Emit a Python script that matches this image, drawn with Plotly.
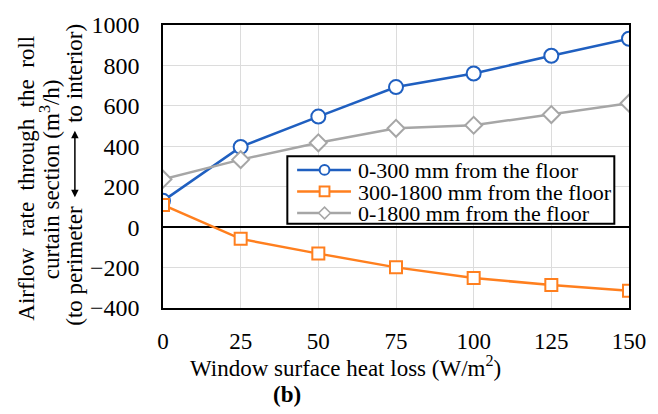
import plotly.graph_objects as go

# Window surface heat loss (W/m2)
heat_loss = [0, 25, 50, 75, 100, 125, 150]

# Airflow rate through the roll curtain section (m3/h)
flow_0_300 = [130, 397, 547, 693, 760, 848, 932]
flow_300_1800 = [110, -58, -131, -199, -252, -286, -315]
flow_0_1800 = [237, 334, 417, 489, 504, 557, 613]

series_names = [
    "0-300 mm from the floor",
    "300-1800 mm from the floor",
    "0-1800 mm from the floor",
]
series_colors = ["#1f5fc0", "#ff7f1e", "#a6a6a6"]
series_symbols = ["circle", "square", "diamond"]
y_ticks = [-400, -200, 0, 200, 400, 600, 800, 1000]

FONT = "'Liberation Serif', 'Times New Roman', Times, serif"

W, H = 658, 414
ML, MR, MT, MB = 163, 19, 19, 106
PW, PH = W - ML - MR, H - MT - MB


def px(x):
    """pixel column -> paper x"""
    return (x - ML) / PW


def py(y):
    """pixel row -> paper y"""
    return (H - MB - y) / PH


fig = go.Figure()
marker_sizes = [14, 12, 13]
for vals, name, color, sym, size in zip(
        [flow_0_300, flow_300_1800, flow_0_1800],
        series_names, series_colors, series_symbols, marker_sizes):
    fig.add_trace(go.Scatter(
        x=heat_loss, y=vals, name=name, mode="lines+markers",
        line=dict(color=color, width=2.5),
        marker=dict(symbol=sym, size=size, color="white",
                    line=dict(color=color, width=2)),
        showlegend=False,
    ))

fig.update_layout(
    width=W, height=H,
    margin=dict(l=ML, r=MR, t=MT, b=MB),
    paper_bgcolor="white", plot_bgcolor="white",
    font=dict(family=FONT, size=22, color="black"),
    xaxis=dict(
        range=[0, 150], tickvals=heat_loss, ticks="",
        showgrid=True, gridcolor="#dcdcdc", gridwidth=1,
        showline=True, linecolor="black", linewidth=1.5, mirror=True,
        zeroline=False, ticklabelstandoff=12,
        tickfont=dict(family=FONT, size=23),
    ),
    yaxis=dict(
        range=[-400, 1000], tickvals=y_ticks, ticks="",
        showgrid=True, gridcolor="#dcdcdc", gridwidth=1,
        showline=True, linecolor="black", linewidth=1.5, mirror=True,
        zeroline=True, zerolinecolor="black", zerolinewidth=1.5,
        ticklabelstandoff=17,
        tickfont=dict(family=FONT, size=24),
    ),
)

# axis titles and caption
annotations = [
    dict(text="Window surface heat loss (W/m<sup>2</sup>)", x=349, y=368, size=23),
    dict(text="<b>(b)</b>", x=290, y=396, size=23),
    dict(text="Airflow  rate  through  the  roll", x=24, y=175, angle=-90, size=23),
    dict(text="curtain section (m<sup>3</sup>/h)", x=48, y=176, angle=-90, size=23),
    dict(text="to interior)", x=73, y=68, angle=-90, size=23),
    dict(text="(to perimeter", x=73, y=265, angle=-90, size=23),
]
for a in annotations:
    fig.add_annotation(
        text=a["text"], xref="paper", yref="paper",
        x=px(a["x"]), y=py(a["y"]),
        xanchor="center", yanchor="middle", showarrow=False,
        textangle=a.get("angle", 0),
        font=dict(family=FONT, size=a["size"], color="black"),
    )

# double-headed arrow between the direction labels
fig.add_annotation(
    xref="paper", yref="paper",
    x=px(73), y=py(127), ax=0, ay=68,
    text="", showarrow=True, arrowside="end+start",
    arrowhead=2, arrowsize=1, arrowwidth=1.5, arrowcolor="black",
)

# legend box with sample line, marker and label per series
shapes = [dict(type="rect", xref="paper", yref="paper",
               x0=px(290), x1=px(624), y0=py(222), y1=py(153),
               line=dict(color="black", width=2), fillcolor="white")]
row_y = [167, 189, 211]
for name, color, sym, ry in zip(series_names, series_colors, series_symbols, row_y):
    shapes.append(dict(type="line", xref="paper", yref="paper",
                       x0=px(300), x1=px(355), y0=py(ry), y1=py(ry),
                       line=dict(color=color, width=2.5)))
    cx, r = 328, 5
    if sym == "circle":
        shapes.append(dict(type="circle", xref="paper", yref="paper",
                           x0=px(cx - r), x1=px(cx + r), y0=py(ry + r), y1=py(ry - r),
                           line=dict(color=color, width=2), fillcolor="white"))
    elif sym == "square":
        shapes.append(dict(type="rect", xref="paper", yref="paper",
                           x0=px(cx - r), x1=px(cx + r), y0=py(ry + r), y1=py(ry - r),
                           line=dict(color=color, width=2), fillcolor="white"))
    else:
        d = 6
        path = (f"M {px(cx)},{py(ry - d)} L {px(cx + d)},{py(ry)} "
                f"L {px(cx)},{py(ry + d)} L {px(cx - d)},{py(ry)} Z")
        shapes.append(dict(type="path", xref="paper", yref="paper", path=path,
                           line=dict(color=color, width=1.5), fillcolor="white"))
    fig.add_annotation(
        text=name, xref="paper", yref="paper", x=px(360), y=py(ry + 1),
        xanchor="left", yanchor="middle", showarrow=False,
        font=dict(family=FONT, size=22, color="black"),
    )
fig.update_layout(shapes=shapes)

fig.write_html("out.html")
